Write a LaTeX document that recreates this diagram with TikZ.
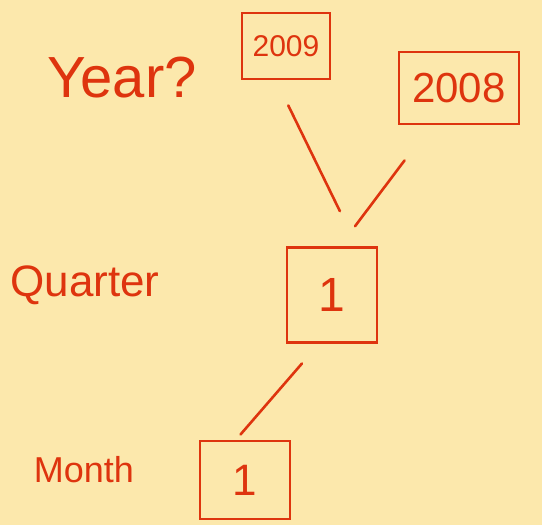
\documentclass[tikz,border=0pt]{standalone}
\usepackage{fontspec}
\setmainfont{Liberation Sans}
\definecolor{paper}{RGB}{252,232,172}
\definecolor{ink}{RGB}{222,52,14}
\begin{document}
\begin{tikzpicture}[x=1pt,y=-1pt,
  ink/.style={draw=ink,line width=2.6pt,line cap=round},
  lbl/.style={text=ink},
  valbox/.style={draw=ink,line width=2.6pt,text=ink,inner sep=0pt}]
\fill[paper] (0,0) rectangle (542,525);
\useasboundingbox (0,0) rectangle (542,525);
\node[lbl,font=\fontsize{58}{62}\selectfont] (year) at (122,78) {Year?};
\node[valbox,minimum width=88pt,minimum height=66pt,font=\fontsize{30}{34}\selectfont] (y9) at (286,46) {2009};
\node[valbox,minimum width=120pt,minimum height=72pt,font=\fontsize{42}{46}\selectfont] (y8) at (459,88) {2008};
\node[lbl,font=\fontsize{44}{48}\selectfont] (qtr) at (85,285) {Quarter};
\node[valbox,minimum width=90pt,minimum height=95pt,font=\fontsize{48}{52}\selectfont] (q1) at (332,295) {1};
\node[lbl,font=\fontsize{36}{40}\selectfont] (mon) at (84,470) {Month};
\node[valbox,minimum width=90pt,minimum height=78pt,font=\fontsize{44}{48}\selectfont] (m1) at (245,480) {1};
\draw[ink,shorten <=28pt,shorten >=39pt] ([xshift=-10pt]y9.south) -- ([xshift=25pt]q1.north);
\draw[ink,shorten <=44pt,shorten >=25pt] ([xshift=-28pt]y8.south) -- ([xshift=8pt]q1.north);
\draw[ink,shorten <=26pt,shorten >=7pt] ([xshift=-13pt]q1.south) -- ([xshift=-9pt]m1.north);
\end{tikzpicture}
\end{document}
